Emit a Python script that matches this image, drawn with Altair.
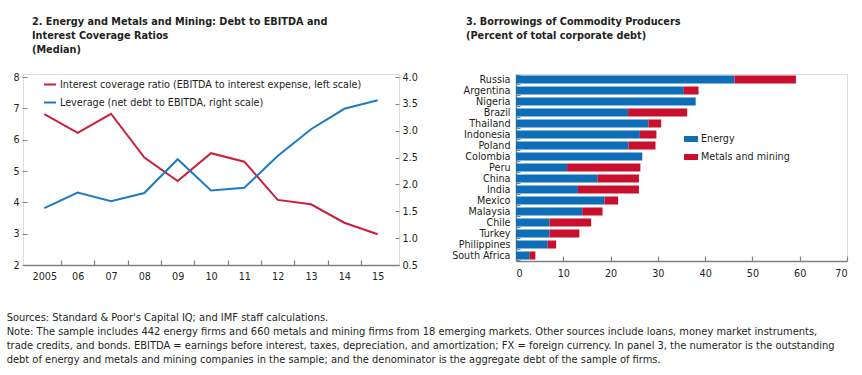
import altair as alt
import pandas as pd

FONT = "DejaVu Sans Condensed, DejaVu Sans, sans-serif"
TEXT = "#231f20"
GRAY = "#808080"
LINE_RED = "#c8203c"
LINE_BLUE = "#1f7ac4"
BAR_BLUE = "#0e6db7"
BAR_RED = "#c8102e"
FS = 10.7      # axis / legend labels
FS_T = 10.8    # panel titles
FS_N = 11      # footnote

# ---------------- Panel 2 data ----------------
years = list(range(2005, 2016))
year_labels = ["2005", "06", "07", "08", "09", "10", "11", "12", "13", "14", "15"]
interest_coverage = [6.82, 6.22, 6.83, 5.43, 4.68, 5.57, 5.30, 4.08, 3.94, 3.35, 2.98]
leverage = [1.56, 1.85, 1.69, 1.84, 2.47, 1.89, 1.94, 2.53, 3.03, 3.41, 3.57]
series_names = [
    "Interest coverage ratio (EBITDA to interest expense, left scale)",
    "Leverage (net debt to EBITDA, right scale)",
]
left_ticks = [2, 3, 4, 5, 6, 7, 8]
right_ticks = [0.5, 1.0, 1.5, 2.0, 2.5, 3.0, 3.5, 4.0]
between_years = [2005.5, 2006.5, 2007.5, 2008.5, 2009.5, 2010.5, 2011.5, 2012.5, 2013.5, 2014.5]

# ---------------- Panel 3 data ----------------
countries = ["Russia", "Argentina", "Nigeria", "Brazil", "Thailand", "Indonesia", "Poland",
             "Colombia", "Peru", "China", "India", "Mexico", "Malaysia", "Chile", "Turkey",
             "Philippines", "South Africa"]
energy = [46.2, 35.5, 38.0, 23.7, 28.0, 26.2, 23.8, 26.7, 10.8, 17.2, 13.1, 18.7, 14.0, 7.1, 7.1, 6.7, 2.9]
metals = [13.0, 3.1, 0.0, 12.5, 2.7, 3.5, 5.7, 0.0, 15.5, 8.8, 12.9, 2.9, 4.3, 8.8, 6.3, 1.8, 1.2]
sectors = ["Energy", "Metals and mining"]
bar_ticks = [0, 10, 20, 30, 40, 50, 60, 70]

footnote = [
    "Sources: Standard & Poor's Capital IQ; and IMF staff calculations.",
    "Note: The sample includes 442 energy firms and 660 metals and mining firms from 18 emerging markets. Other sources include loans, money market instruments,",
    "trade credits, and bonds. EBITDA = earnings before interest, taxes, depreciation, and amortization; FX = foreign currency. In panel 3, the numerator is the outstanding",
    "debt of energy and metals and mining companies in the sample; and the denominator is the aggregate debt of the sample of firms.",
]

L_W, L_H = 376, 191
R_W, R_H = 331, 187
AX = dict(labelFont=FONT, labelFontSize=FS, labelColor=TEXT, tickColor=GRAY)

red_df = pd.DataFrame({"year": years, "value": interest_coverage, "series": series_names[0]})
blue_df = pd.DataFrame({"year": years, "value": leverage, "series": series_names[1]})

label_array = "[" + ",".join("'" + s + "'" for s in year_labels) + "]"

color_lines = alt.Color(
    "series:N",
    scale=alt.Scale(domain=series_names, range=[LINE_RED, LINE_BLUE]),
    legend=alt.Legend(
        orient="none", legendX=20, legendY=3.5, title=None, symbolType="stroke",
        symbolSize=144, symbolStrokeWidth=2, labelFontSize=FS, labelColor=TEXT,
        labelFont=FONT, rowPadding=6, labelOffset=3, padding=0, labelLimit=500,
    ),
)

red = alt.Chart(red_df).mark_line(strokeWidth=2).encode(
    x=alt.X(
        "year:Q",
        scale=alt.Scale(domain=[2004.36, 2015.64], nice=False, zero=False),
        axis=alt.Axis(
            orient="bottom", values=years, labelExpr=label_array + "[datum.value - 2005]",
            ticks=False, domain=True, domainColor=GRAY, domainWidth=1.5, labelPadding=6,
            grid=False, title=None, **AX,
        ),
    ),
    y=alt.Y(
        "value:Q",
        scale=alt.Scale(domain=[2, 8.1], nice=False, zero=False),
        axis=alt.Axis(
            orient="left", values=left_ticks, offset=-4, tickSize=5, domain=False,
            grid=False, title=None, labelPadding=3, **AX,
        ),
    ),
    color=color_lines,
)

blue = alt.Chart(blue_df).mark_line(strokeWidth=2).encode(
    x=alt.X(
        "year:Q",
        axis=alt.Axis(
            orient="top", values=between_years, labels=False, domain=False, tickSize=5,
            offset=-L_H, grid=False, title=None, tickColor=GRAY, tickWidth=1.2,
        ),
    ),
    y=alt.Y(
        "value:Q",
        scale=alt.Scale(domain=[0.5, 4.0583], nice=False, zero=False),
        axis=alt.Axis(
            orient="right", values=right_ticks, format=".1f", offset=-4, tickSize=4,
            domain=False, grid=False, title=None, labelPadding=3, **AX,
        ),
    ),
    color=color_lines,
)

left = (
    alt.layer(red, blue)
    .resolve_scale(y="independent")
    .resolve_axis(x="independent", y="independent")
    .properties(
        width=L_W,
        height=L_H,
        title=alt.TitleParams(
            text=[
                "2. Energy and Metals and Mining: Debt to EBITDA and",
                "\u00a0\u00a0\u00a0\u00a0Interest Coverage Ratios",
                "\u00a0\u00a0\u00a0\u00a0(Median)",
            ],
            anchor="start", frame="group", dx=9, offset=16, baseline="top",
            fontSize=FS_T, font=FONT, fontWeight="bold", color=TEXT, lineHeight=14,
        ),
    )
)

rows = []
for i, c in enumerate(countries):
    rows.append({"country": c, "sector": sectors[0], "value": energy[i], "order": 0})
    rows.append({"country": c, "sector": sectors[1], "value": metals[i], "order": 1})
bar_df = pd.DataFrame(rows)

bars = alt.Chart(bar_df).mark_bar().encode(
    x=alt.X(
        "value:Q", stack="zero",
        scale=alt.Scale(domain=[0, 70], nice=False),
        axis=alt.Axis(
            orient="bottom", values=bar_ticks, ticks=False, domain=True, domainColor=GRAY,
            domainWidth=1.5, labelPadding=7, grid=False, title=None, **AX,
        ),
    ),
    y=alt.Y(
        "country:N", sort=countries,
        scale=alt.Scale(paddingInner=0.27, paddingOuter=0.135),
        axis=alt.Axis(
            orient="left", ticks=False, domain=True, domainColor=GRAY, domainWidth=1.5,
            labelPadding=6, title=None, grid=False, **AX,
        ),
    ),
    color=alt.Color(
        "sector:N",
        scale=alt.Scale(domain=sectors, range=[BAR_BLUE, BAR_RED]),
        legend=alt.Legend(
            orient="none", legendX=168, legendY=58, title=None,
            symbolType="M-1,-0.43H1V0.43H-1Z", symbolSize=196, symbolStrokeWidth=0,
            labelFontSize=FS, labelColor=TEXT, labelFont=FONT, rowPadding=6,
            labelOffset=3, padding=0, labelLimit=500,
        ),
    ),
    order=alt.Order("order:Q"),
)

tick_layer = alt.Chart(bar_df).mark_bar(opacity=0).encode(
    x=alt.X(
        "value:Q",
        axis=alt.Axis(
            orient="top", values=bar_ticks[1:], labels=False, domain=False, tickSize=5,
            offset=-R_H, grid=False, title=None, tickColor=GRAY, tickWidth=1.2,
        ),
    ),
    y=alt.Y(
        "country:N", sort=countries,
        axis=alt.Axis(
            orient="right", labels=False, domain=False, tickSize=4, tickBand="extent",
            offset=-R_W, grid=False, title=None, tickColor=GRAY,
        ),
    ),
)

right = (
    alt.layer(bars, tick_layer)
    .resolve_axis(x="independent", y="independent")
    .properties(
        width=R_W,
        height=R_H,
        title=alt.TitleParams(
            text=[
                "3. Borrowings of Commodity Producers",
                "\u00a0\u00a0\u00a0\u00a0(Percent of total corporate debt)",
            ],
            anchor="start", frame="group", dx=-50, offset=32.5, baseline="top",
            fontSize=FS_T, font=FONT, fontWeight="bold", color=TEXT, lineHeight=14,
        ),
    )
)

chart = (
    alt.hconcat(left, right, spacing=33)
    .resolve_scale(color="independent")
    .resolve_legend(color="independent")
    .properties(
        padding={"left": 6, "top": 15, "right": 0, "bottom": 0},
        title=alt.TitleParams(
            text=footnote, orient="bottom", anchor="start", frame="bounds",
            baseline="top", fontSize=FS_N, font=FONT, fontWeight="normal", color=TEXT,
            lineHeight=14, offset=31, dx=-5.7,
        ),
    )
    .configure_view(stroke=None)
    .configure(background="white")
)

chart.save("out.html", embed_options={"renderer": "svg", "actions": False})
